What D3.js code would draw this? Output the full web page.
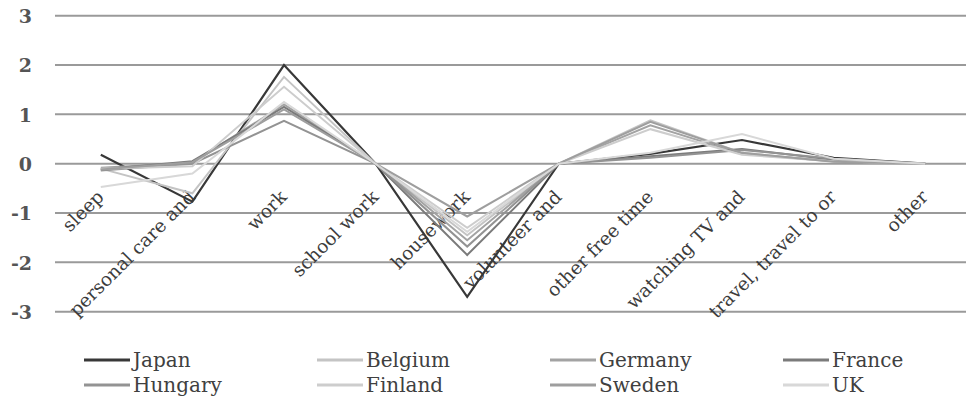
<!DOCTYPE html>
<html>
<head>
<meta charset="utf-8">
<script src="https://cdn.jsdelivr.net/npm/d3@7"></script>
<style>
  html, body { margin: 0; padding: 0; background: #ffffff; }
  svg { display: block; }
</style>
</head>
<body>
<svg id="chart" width="966" height="400"></svg>
<script>
// Activity categories along the x axis (labels as shown, truncated)
const categories = ["sleep", "personal care and", "work", "school work", "housework",
  "volunteer and", "other free time", "watching TV and", "travel, travel to or", "other"];

// Country series: deviation in hours from the group average, per activity
const countries = ["Japan", "Belgium", "Germany", "France", "Hungary", "Finland", "Sweden", "UK"];
const japan   = [0.18, -0.77, 2.00, 0.00, -2.70, 0.00, 0.20, 0.48, 0.12, 0.00];
const belgium = [-0.10, -0.60, 1.76, 0.00, -1.45, 0.00, 0.88, 0.22, 0.05, 0.00];
const germany = [-0.08, 0.02, 1.20, 0.00, -1.55, 0.00, 0.78, 0.20, 0.05, 0.00];
const france  = [-0.12, 0.05, 1.15, 0.00, -1.85, 0.00, 0.15, 0.30, 0.08, 0.00];
const hungary = [-0.14, 0.00, 0.87, 0.00, -1.68, 0.00, 0.12, 0.28, 0.10, 0.00];
const finland = [-0.10, -0.05, 1.56, 0.00, -1.30, 0.00, 0.70, 0.18, 0.05, 0.00];
const sweden  = [-0.12, 0.03, 1.10, 0.00, -1.07, 0.00, 0.85, 0.22, 0.04, 0.00];
const uk      = [-0.47, -0.20, 1.25, 0.00, -1.38, 0.00, 0.22, 0.60, 0.10, 0.00];
const seriesValues = [japan, belgium, germany, france, hungary, finland, sweden, uk];
const seriesColors = ["#383838", "#c4c4c4", "#a3a3a3", "#7b7b7b", "#939393", "#cdcdcd", "#9e9e9e", "#d8d8d8"];

// Y axis ticks
const yTicks = [-3, -2, -1, 0, 1, 2, 3];

const svg = d3.select("#chart");

const x = d3.scalePoint().domain(categories).range([55, 971]).padding(0.5);
const y = d3.scaleLinear().domain([-3, 3]).range([311.7, 15.7]);

// Horizontal gridlines
svg.append("g").selectAll("line").data(yTicks).join("line")
  .attr("x1", 55).attr("x2", 966)
  .attr("y1", d => y(d)).attr("y2", d => y(d))
  .attr("stroke", "#9a9a9a").attr("stroke-width", 2);

// Y tick labels (plain hyphen for negatives)
const yAxis = d3.axisLeft(y).tickValues(yTicks).tickSize(0).tickPadding(0).tickFormat(d => String(d));
const yg = svg.append("g").attr("transform", "translate(32,0)").call(yAxis);
yg.select(".domain").remove();
yg.selectAll("text")
  .attr("font-family", "'DejaVu Serif', serif")
  .attr("font-size", 19)
  .attr("font-weight", "bold")
  .attr("fill", "#555555")
  .attr("dy", "0.35em");

// Rotated category labels under the zero line
svg.append("g").selectAll("text").data(categories).join("text")
  .attr("transform", d => `translate(${x(d) + 4},198) rotate(-45)`)
  .attr("text-anchor", "end")
  .attr("font-family", "'DejaVu Serif', serif")
  .attr("font-size", 18.5)
  .attr("fill", "#3c3c3c")
  .text(d => d);

// Series lines
const line = d3.line().x((d, i) => x(categories[i])).y(d => y(d));
svg.append("g").selectAll("path").data(seriesValues).join("path")
  .attr("d", d => line(d))
  .attr("fill", "none")
  .attr("stroke", (d, i) => seriesColors[i])
  .attr("stroke-width", (d, i) => i === 0 ? 2.2 : 2)
  .attr("stroke-linejoin", "miter");

// Legend: four columns, two rows
const legend = svg.append("g").selectAll("g").data(countries).join("g")
  .attr("transform", (d, i) => `translate(${84 + (i % 4) * 233},${i < 4 ? 360 : 385})`);
legend.append("line")
  .attr("x1", 0).attr("x2", 46).attr("y1", 0).attr("y2", 0)
  .attr("stroke", (d, i) => seriesColors[i]).attr("stroke-width", 3);
legend.append("text")
  .attr("x", 49).attr("y", 7)
  .attr("font-family", "'DejaVu Serif', serif")
  .attr("font-size", 20)
  .attr("fill", "#404040")
  .text(d => d);
</script>
</body>
</html>
